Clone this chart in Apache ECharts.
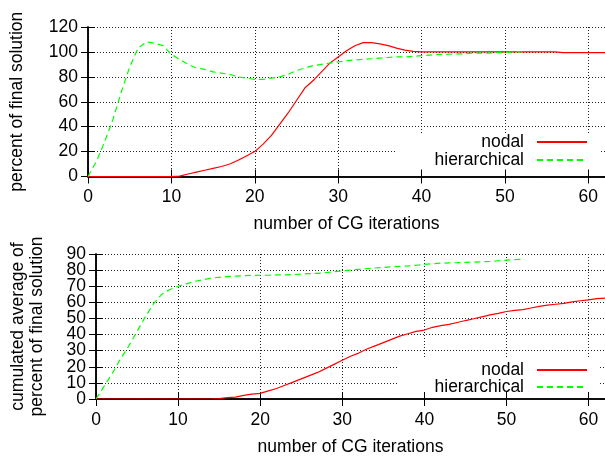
<!DOCTYPE html>
<html><head><meta charset="utf-8">
<script src="https://cdn.jsdelivr.net/npm/echarts@6/dist/echarts.min.js"></script>
<style>html,body{margin:0;padding:0;background:#fff}#c{width:605px;height:457px}</style>
</head><body><div id="c"></div>
<script>
// ---- data ----
const iterations = [0,1,2,3,4,5,6,7,8,9,10,11,12,13,14,15,16,17,18,19,20,21,22,23,24,25,26,27,28,29,30,
  31,32,33,34,35,36,37,38,39,40,41,42,43,44,45,46,47,48,49,50,51,52,53,54,55,56,57,58,59,60,61,62];
const seriesNames = ['nodal', 'hierarchical'];
// top panel: percent of final solution
const topNodal = [0,0,0,0,0,0,0,0,0,0,0,0.3,2,3.5,5,6.5,8,10,13,16.5,20,26,33,42,51,61,71,77,84,91,96,
  101,105,107.5,107.5,106.5,105,103,101.5,100.5,100,100,100,100,100,100,100,100,100,100,100,100,100,100,100,100,100,
  99.5,99.5,99.5,99.5,99.5,99.5];
const topHier = [0,12,28,46,68,88,103,108,107,105,98,94,90,87,86,84,83,82,80,79,78,78,79,80,82,85,87,89,90,91,92,
  93,93.5,94,94.5,95,95.5,96,96,96.5,97,97.5,98,98,98.5,98.5,99,99,99,99.5,99.5,100,100];
// bottom panel: cumulated average of percent of final solution
const botNodal = [0,0,0,0,0,0,0,0,0,0,0,0,0,0,0,0.3,0.8,1.2,2.2,3,3.5,5,6.5,8.5,10.5,12.5,14.5,16.5,19,21.5,24,
  26.5,28.5,31,33,35,37,39,40.5,42,42.8,44.5,45.5,46.3,47.5,48.7,49.8,51,52.2,53.2,54.3,55,55.5,56.5,57.5,58.3,58.8,
  59.3,60.3,61,61.5,62.3,62.6];
const botHier = [0,8,16,25,33,42,51,59,65,68,70,71.5,73,74,75,75.5,76,76.3,76.5,76.7,76.8,76.8,77,77,77.2,77.5,77.8,78,78.5,79,79.5,
  80,80.5,81,81.3,81.6,82,82.3,82.6,83,83.5,84,84.3,84.5,84.6,84.8,85,85.2,85.4,85.8,86.2,86.5,86.8];
const xTicks = [0, 10, 20, 30, 40, 50, 60];
const topYTicks = [0, 20, 40, 60, 80, 100, 120];
const botYTicksA = [0, 20, 40, 60, 80];
const botYTicksB = [10, 30, 50, 70, 90];
const xTitle = 'number of CG iterations';
const topYTitle = 'percent of final solution';
const botYTitle = 'cumulated average of\npercent of final solution';
const xRange = [0, 62, 10];
const topYRange = [0, 120, 20];
const botYRange = [0, 90, 10];

// ---- styling / layout ----
const FONT = 'Liberation Sans';
const FS = 17.5;
const pairs = (vals) => vals.map((v, i) => [iterations[i], v]);
const labelStyle = {show: true, color: '#000', fontSize: FS, fontFamily: FONT, interval: 0, hideOverlap: false};

function xAxes(gi, range, ticks) {
  const base = {type: 'value', gridIndex: gi, min: range[0], max: range[1], interval: range[2]};
  return [
    Object.assign({}, base, {position: 'bottom', z: 3,
      axisLine: {show: true, lineStyle: {color: '#000', width: 1.5}},
      axisTick: {show: true, inside: true, length: 7, lineStyle: {color: '#000', width: 1}},
      axisLabel: Object.assign({}, labelStyle, {margin: 12, customValues: ticks}),
      splitLine: {show: false},
      name: xTitle, nameLocation: 'middle', nameGap: 39,
      nameTextStyle: {color: '#000', fontSize: FS, fontFamily: FONT}}),
    Object.assign({}, base, {position: 'top', z: 3,
      axisLine: {show: true, lineStyle: {color: '#000', width: 1.5}},
      axisTick: {show: true, inside: true, length: 7, lineStyle: {color: '#000', width: 1}},
      axisLabel: {show: false}, splitLine: {show: false}}),
    Object.assign({}, base, {position: 'bottom', z: 0,
      axisLine: {show: false}, axisTick: {show: false}, axisLabel: {show: false},
      splitLine: {show: true, lineStyle: {color: '#222', width: 1, type: [1, 2]}}})
  ];
}
function yAxes(gi, range, ticks, title, gap) {
  const base = {type: 'value', gridIndex: gi, min: range[0], max: range[1], interval: range[2]};
  return [
    Object.assign({}, base, {position: 'left', z: 3,
      axisLine: {show: true, lineStyle: {color: '#000', width: 1.5}},
      axisTick: {show: true, inside: true, length: 7, lineStyle: {color: '#000', width: 1}},
      axisLabel: Object.assign({}, labelStyle, {margin: 10, customValues: ticks}),
      splitLine: {show: false},
      name: title, nameLocation: 'middle', nameGap: gap,
      nameTextStyle: {color: '#000', fontSize: FS, fontFamily: FONT, lineHeight: 19}}),
    Object.assign({}, base, {position: 'right', z: 3,
      axisLine: {show: true, lineStyle: {color: '#000', width: 1.5}},
      axisTick: {show: true, inside: true, length: 7, lineStyle: {color: '#000', width: 1}},
      axisLabel: {show: false}, splitLine: {show: false}}),
    Object.assign({}, base, {position: 'left', z: 0,
      axisLine: {show: false}, axisTick: {show: false}, axisLabel: {show: false},
      splitLine: {show: true, lineStyle: {color: '#222', width: 1, type: [1, 2]}}})
  ];
}
// extra label-only axis so that densely packed labels are not auto-hidden
function yLabelAxis(gi, range, ticks) {
  return {type: 'value', gridIndex: gi, min: range[0], max: range[1], interval: range[2],
    position: 'left', offset: 0, z: 3,
    axisLine: {show: false}, axisTick: {show: false}, splitLine: {show: false},
    axisLabel: Object.assign({}, labelStyle, {margin: 10, customValues: ticks})};
}
const red = {color: '#ff0000', width: 1.2, type: 'solid'};
const green = {color: '#00ff00', width: 1.2, type: [6, 4]};
function line(name, data, gi, style) {
  return {type: 'line', name: name, data: pairs(data), xAxisIndex: gi * 3, yAxisIndex: gi * 3,
    symbol: 'none', showSymbol: false, lineStyle: style, itemStyle: {color: style.color},
    z: 4, silent: true};
}
function legend(name, top) {
  return {data: [name], orient: 'horizontal', align: 'right', right: 17, top: top, padding: 0,
    itemWidth: 50, itemHeight: 14, z: 5, itemStyle: {opacity: 0},
    textStyle: {color: '#000', fontSize: FS, fontFamily: FONT, padding: [0, 8, 0, 0]}};
}

const chart = echarts.init(document.getElementById('c'), null, {renderer: 'canvas'});
chart.setOption({
  animation: false,
  backgroundColor: '#fff',
  grid: [
    {left: 88, top: 27, right: -4, height: 149.5, show: false},
    {left: 96, top: 254, right: -3.5, height: 149.5, show: false}
  ],
  xAxis: xAxes(0, xRange, xTicks).concat(xAxes(1, xRange, xTicks)),
  yAxis: yAxes(0, topYRange, topYTicks, topYTitle, 61)
    .concat(yAxes(1, botYRange, botYTicksA, botYTitle, 49))
    .concat([yLabelAxis(1, botYRange, botYTicksB)]),
  legend: [legend(seriesNames[0], 133), legend(seriesNames[1], 151),
           legend(seriesNames[0], 361), legend(seriesNames[1], 378)],
  graphic: [
    {type: 'rect', shape: {x: 397, y: 133, width: 203, height: 42}, style: {fill: '#fff'}, z: 1, silent: true},
    {type: 'rect', shape: {x: 398, y: 358, width: 202, height: 44.5}, style: {fill: '#fff'}, z: 1, silent: true}
  ],
  series: [
    line(seriesNames[0], topNodal, 0, red),
    line(seriesNames[1], topHier, 0, green),
    line(seriesNames[0], botNodal, 1, red),
    line(seriesNames[1], botHier, 1, green)
  ]
});
</script></body></html>
